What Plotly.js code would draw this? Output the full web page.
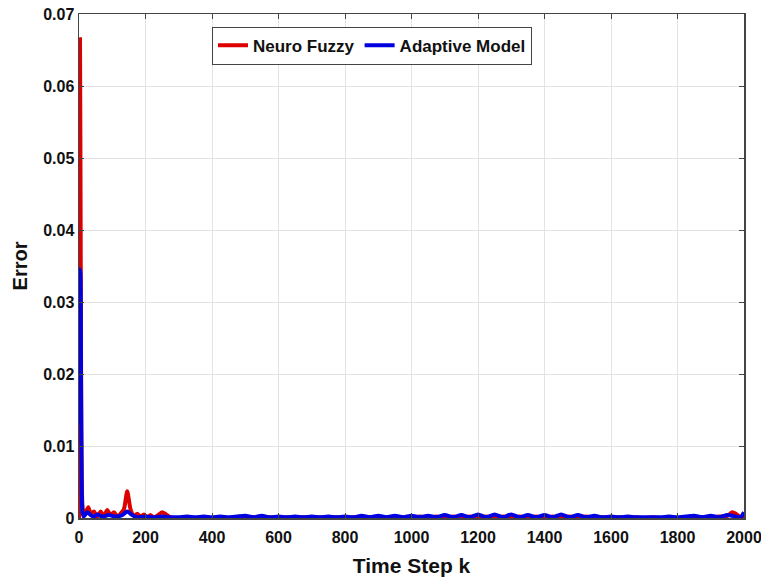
<!DOCTYPE html>
<html>
<head>
<meta charset="utf-8">
<script src="https://cdn.plot.ly/plotly-3.0.1.min.js"></script>
<style>html,body{margin:0;padding:0;background:#fff;}#chart{width:761px;height:580px;}</style>
</head>
<body>
<div id="chart"></div>
<script>
var seriesNames = ["Neuro Fuzzy", "Adaptive Model"];
var xTickVals = [0, 200, 400, 600, 800, 1000, 1200, 1400, 1600, 1800, 2000];
var yTickVals = [0, 0.01, 0.02, 0.03, 0.04, 0.05, 0.06, 0.07];
var yTickText = ["0", "0.01", "0.02", "0.03", "0.04", "0.05", "0.06", "0.07"];

var neuroX = [0, 1, 3, 5, 7, 10, 14, 20, 28, 35, 45, 55, 65, 75, 85, 95, 105, 115, 125, 135, 145, 155, 165, 175, 185, 195, 205, 215, 225, 235, 250, 262, 275,
  300, 325, 350, 375, 400, 425, 450, 475, 500, 525, 550, 575, 600, 625, 650, 675, 700, 725, 750, 775, 800, 825, 850, 875, 900, 925, 950, 975,
  1000, 1025, 1050, 1075, 1100, 1125, 1150, 1175, 1200, 1225, 1250, 1275, 1300, 1325, 1350, 1375, 1400, 1425, 1450, 1475, 1500, 1525, 1550, 1575,
  1600, 1625, 1650, 1675, 1700, 1725, 1750, 1775, 1800, 1825, 1850, 1875, 1900, 1925, 1950, 1965, 1975, 1990, 2000];
var neuroY = [0, 0.027, 0.0665, 0.040, 0.012, 0.002, 0.0003, 0.0008, 0.0015, 0.0006, 0.0009, 0.0002, 0.0009, 0.0003, 0.0011, 0.0004, 0.0008, 0.0002, 0.0006, 0.0012, 0.0037, 0.0012, 0.0003, 0.0006, 0.0002, 0.0005, 0.0001, 0.0004, 0.0001, 0.0003, 0.0008, 0.0005, 0.0001,
  0.0000, 0.0001, 0.0000, 0.0001, 0.0000, 0.0001, 0.0000, 0.0001, 0.0000, 0.0001, 0.0000, 0.0001, 0.0000, 0.0001, 0.0000, 0.0001, 0.0000, 0.0001, 0.0000, 0.0001, 0.0000, 0.0001, 0.0000, 0.0001, 0.0000, 0.0001, 0.0000, 0.0001,
  0.0000, 0.0002, 0.0000, 0.0002, 0.0000, 0.0002, 0.0000, 0.0002, 0.0000, 0.0002, 0.0000, 0.0002, 0.0000, 0.0002, 0.0000, 0.0002, 0.0000, 0.0002, 0.0000, 0.0002, 0.0000, 0.0002, 0.0000, 0.0001,
  0.0000, 0.0001, 0.0000, 0.0001, 0.0000, 0.0001, 0.0000, 0.0001, 0.0000, 0.0001, 0.0000, 0.0001, 0.0001, 0.0002, 0.0003, 0.0008, 0.0006, 0.0001, 0.0002];

var adaptX = [0, 2, 4, 6, 8, 10, 14, 25, 35, 45, 55, 70, 90, 110, 130, 145, 160, 175, 200, 225, 250, 275,
  300, 325, 350, 375, 400, 425, 450, 475, 500, 525, 550, 575, 600, 625, 650, 675, 700, 725, 750, 775, 800, 825, 850, 875, 900, 925, 950, 975,
  1000, 1025, 1050, 1075, 1100, 1125, 1150, 1175, 1200, 1225, 1250, 1275, 1300, 1325, 1350, 1375, 1400, 1425, 1450, 1475, 1500, 1525, 1550, 1575,
  1600, 1625, 1650, 1675, 1700, 1725, 1750, 1775, 1800, 1825, 1850, 1875, 1900, 1925, 1950, 1975, 1990, 2000];
var adaptY = [0.013, 0.0345, 0.034, 0.020, 0.005, 0.001, 0.0002, 0.0008, 0.0004, 0.0002, 0.0005, 0.0002, 0.0004, 0.0002, 0.0004, 0.0009, 0.0004, 0.0001, 0.0002, 0.0001, 0.0002, 0.0001,
  0.0001, 0.0002, 0.0001, 0.0002, 0.0001, 0.0002, 0.0001, 0.0002, 0.0003, 0.0001, 0.0003, 0.0001, 0.0002, 0.0001, 0.0002, 0.0001, 0.0002, 0.0001, 0.0002, 0.0001, 0.0002, 0.0001, 0.0003, 0.0001, 0.0003, 0.0001, 0.0003, 0.0001,
  0.0003, 0.0001, 0.0003, 0.0001, 0.0004, 0.0001, 0.0004, 0.0001, 0.0005, 0.0001, 0.0005, 0.0001, 0.0005, 0.0001, 0.0004, 0.0001, 0.0004, 0.0001, 0.0005, 0.0001, 0.0004, 0.0001, 0.0003, 0.0001,
  0.0002, 0.0001, 0.0002, 0.0001, 0.0001, 0.0001, 0.0001, 0.0002, 0.0001, 0.0002, 0.0003, 0.0001, 0.0003, 0.0001, 0.0004, 0.0002, 0.0001, 0.0008];

var fontFam = "Liberation Sans, Arial, sans-serif";
var traces = [
  {x: neuroX, y: neuroY, name: seriesNames[0], type: "scatter", mode: "lines",
   line: {color: "rgb(220,0,0)", width: 4, shape: "spline", smoothing: 0.6}},
  {x: adaptX, y: adaptY, name: seriesNames[1], type: "scatter", mode: "lines",
   line: {color: "rgb(0,0,225)", width: 4, shape: "spline", smoothing: 0.6}}
];
var axisCommon = {
  showline: true, linecolor: "#444", linewidth: 1.5, mirror: "ticks",
  ticks: "inside", ticklen: 5, tickcolor: "#444", tickwidth: 1,
  showgrid: true, gridcolor: "#e3e3e3", gridwidth: 1, zeroline: false,
  ticklabeloverflow: "allow",
  tickfont: {family: fontFam, size: 16, color: "#111", weight: "bold"}
};
var layout = {
  width: 761, height: 580,
  margin: {l: 79, r: 17, t: 14, b: 62},
  paper_bgcolor: "#fff", plot_bgcolor: "#fff",
  showlegend: true,
  legend: {orientation: "h", x: 0.2, y: 0.975, xanchor: "left", yanchor: "top",
    bgcolor: "#fff", bordercolor: "#444", borderwidth: 1,
    font: {family: fontFam, size: 17, color: "#111", weight: "bold"},
    traceorder: "normal", itemwidth: 30, tracegroupgap: 0},
  xaxis: Object.assign({}, axisCommon, {range: [0, 2000], tickvals: xTickVals, ticklabelstandoff: 4,
    title: {text: "Time Step k", font: {family: fontFam, size: 21, color: "#111", weight: "bold"}, standoff: 13}}),
  yaxis: Object.assign({}, axisCommon, {range: [0, 0.07], tickvals: yTickVals, ticktext: yTickText,
    title: {text: "Error", font: {family: fontFam, size: 20, color: "#111", weight: "bold"}, standoff: 10}})
};
Plotly.newPlot("chart", traces, layout, {displayModeBar: false, staticPlot: true});
</script>
</body>
</html>
